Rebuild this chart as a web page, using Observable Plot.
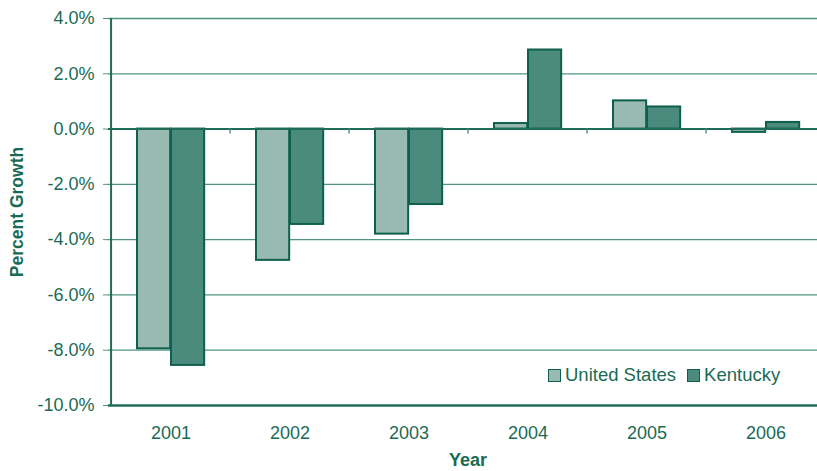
<!DOCTYPE html>
<html>
<head>
<meta charset="utf-8">
<script src="https://cdn.jsdelivr.net/npm/d3@7"></script>
<script src="https://cdn.jsdelivr.net/npm/@observablehq/plot@0.6"></script>
<style>
  html, body { margin: 0; padding: 0; background: #fff; overflow: hidden; }
  #wrap { position: relative; width: 817px; height: 471px; overflow: hidden; }
  #wrap svg { max-width: none !important; display: block; }
  #legend { position: absolute; left: 548px; top: 364px; font: 18.5px "Liberation Sans", Arial, sans-serif; color: #1a6b55; display: flex; align-items: center; white-space: nowrap; }
  #legend .sw { display: inline-block; width: 11px; height: 11px; border: 1.5px solid #0e5f4c; margin-right: 4px; }
  #legend .item { display: flex; align-items: center; margin-right: 11px; }
</style>
</head>
<body>
<div id="wrap"></div>
<script>
const years = ["2001", "2002", "2003", "2004", "2005", "2006"];
const usGrowth = [-7.95, -4.75, -3.8, 0.2, 1.02, -0.12];
const kyGrowth = [-8.55, -3.45, -2.73, 2.86, 0.8, 0.24];
const seriesNames = ["United States", "Kentucky"];
const yTicks = [4, 2, 0, -2, -4, -6, -8, -10];

const textColor = "#1a6b55";
const usFill = "#98bab1";
const kyFill = "#4b8b7d";
const barStroke = "#0e5f4c";

const W = 827, ML = 108, MR = 0;
const bw = (W - ML - MR) / years.length;

const us = years.map((y, i) => ({year: y, value: usGrowth[i]}));
const ky = years.map((y, i) => ({year: y, value: kyGrowth[i]}));

const chart = Plot.plot({
  width: W,
  height: 471,
  marginLeft: ML,
  marginRight: MR,
  marginTop: 18,
  marginBottom: 66,
  style: {fontFamily: '"Liberation Sans", Arial, sans-serif', fontSize: "18px", color: textColor, background: "white", maxWidth: "none"},
  x: {domain: years, padding: 0, axis: null},
  y: {domain: [-10, 4], axis: null},
  marks: [
    Plot.ruleY(yTicks.filter(d => d !== 0 && d !== -10), {stroke: "#4f9483", strokeWidth: 1.3}),
    Plot.axisY({ticks: yTicks, tickSize: 5, tickPadding: 9, tickFormat: d => d.toFixed(1) + "%", stroke: "#4f9483", fill: textColor, label: null, fontSize: 18}),
    Plot.axisX({tickSize: 0, tickPadding: 21, fill: textColor, label: null, fontSize: 18}),
    Plot.barY(us, {x: "year", y: "value", fill: usFill, stroke: barStroke, strokeWidth: 2, insetLeft: 26, insetRight: bw - 60}),
    Plot.barY(ky, {x: "year", y: "value", fill: kyFill, stroke: barStroke, strokeWidth: 2, insetLeft: 60, insetRight: bw - 94}),
    Plot.ruleY([0], {stroke: "#1f6b57", strokeWidth: 2}),
    Plot.ruleX(years.slice(1), {x: d => d, y1: 0, y2: -0.18, dx: -bw / 2, stroke: "#4f9483", strokeWidth: 1.5}),
    Plot.ruleY([-10], {stroke: "#1f6b57", strokeWidth: 2.5}),
    Plot.ruleX([years[0]], {x: d => d, y1: -10, y2: 4, dx: -bw / 2, stroke: "#1f6b57", strokeWidth: 2}),
    Plot.text(["Year"], {frameAnchor: "bottom", dy: 55, fill: textColor, fontWeight: "bold", fontSize: 18, lineAnchor: "middle"}),
    Plot.text(["Percent Growth"], {frameAnchor: "left", dx: -91, rotate: -90, textAnchor: "middle", fill: textColor, fontWeight: "bold", fontSize: 17.5, lineAnchor: "middle"})
  ]
});

const wrap = document.getElementById("wrap");
wrap.appendChild(chart);

const legend = document.createElement("div");
legend.id = "legend";
legend.innerHTML = seriesNames.map((n, i) =>
  `<span class="item"><span class="sw" style="background:${i === 0 ? usFill : kyFill}"></span>${n}</span>`).join("");
wrap.appendChild(legend);
</script>
</body>
</html>
